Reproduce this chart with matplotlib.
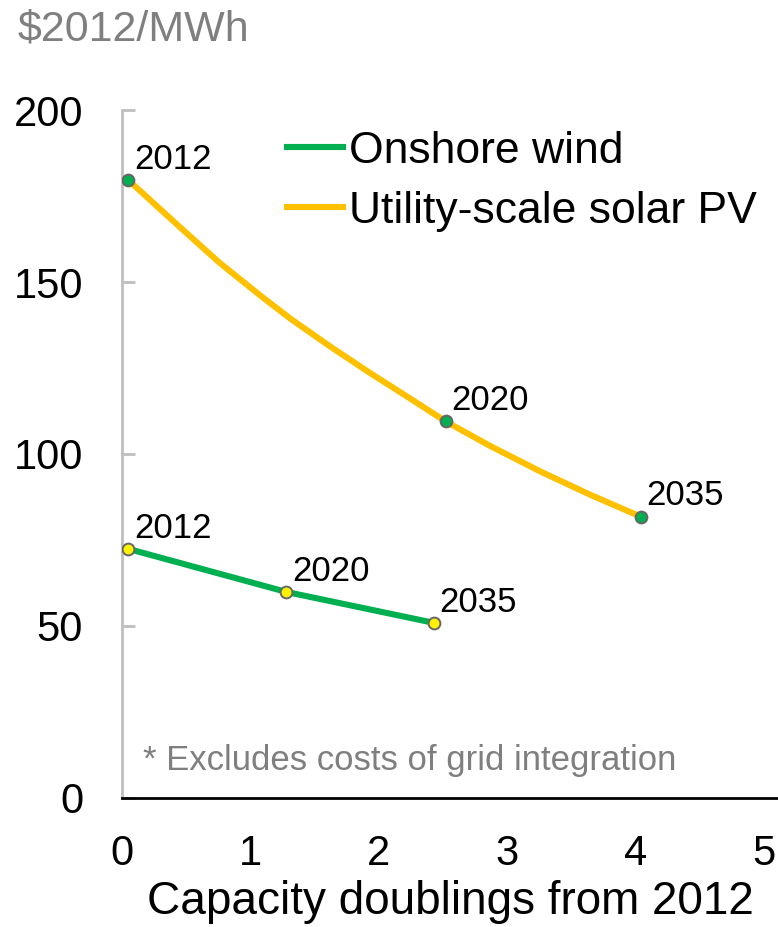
import matplotlib
matplotlib.use('Agg')
from matplotlib import pyplot as plt

# data
wind_x = [0.05, 1.28, 2.43]
wind_y = [72.4, 59.9, 50.9]
wind_years = ['2012', '2020', '2035']

# solar curve
solar_x = [0.05, 0.45, 0.76, 1.08, 1.31, 1.62, 1.93, 2.25, 2.52, 2.87, 3.26, 3.65, 4.04]
solar_y = [179.6, 166.0, 155.6, 146.0, 139.4, 131.3, 123.6, 116.0, 109.5, 102.3, 94.9, 88.1, 81.8]
solar_mark_x = [0.05, 2.52, 4.04]
solar_mark_y = [179.6, 109.5, 81.8]
solar_years = ['2012', '2020', '2035']

x_ticks = [0, 1, 2, 3, 4, 5]
y_ticks = [0, 50, 100, 150, 200]

FONT = 'Liberation Sans'
GREEN = '#00B050'
GOLD = '#FFC000'
GRAY = '#7F7F7F'

plt.rcParams['font.family'] = FONT

fig = plt.figure(figsize=(7.78, 9.27), dpi=100)
ax = fig.add_axes([0.1568, 0.1392, 0.8432, 0.7421])

ax.plot(wind_x, wind_y, color=GREEN, lw=4.4, solid_joinstyle='round', label='Onshore wind', zorder=2)
ax.plot(solar_x, solar_y, color=GOLD, lw=4.4, solid_joinstyle='round', label='Utility-scale solar PV', zorder=2)
ax.plot(wind_x, wind_y, ls='none', marker='o', ms=8.5, mfc='#FFF200', mec='#666666', mew=1.4, zorder=3)
ax.plot(solar_mark_x, solar_mark_y, ls='none', marker='o', ms=8.5, mfc=GREEN, mec='#666666', mew=1.4, zorder=3)

for x, y, t in zip(wind_x, wind_y, wind_years):
    ax.annotate(t, (x, y), xytext=(4, 3), textcoords='offset points', ha='left', va='bottom',
                fontsize=25)
for x, y, t in zip(solar_mark_x, solar_mark_y, solar_years):
    ax.annotate(t, (x, y), xytext=(4, 3), textcoords='offset points', ha='left', va='bottom',
                fontsize=25)

ax.set_xlim(0, 5.11)
ax.set_ylim(0, 200)
ax.set_xticks(x_ticks)
ax.set_yticks(y_ticks)
for s in ['top', 'right']:
    ax.spines[s].set_visible(False)
ax.spines['left'].set_color('#BFBFBF')
ax.spines['left'].set_linewidth(2)
ax.spines['bottom'].set_color('black')
ax.spines['bottom'].set_linewidth(2)
ax.tick_params(axis='y', direction='in', length=9, width=2, color='#BFBFBF', pad=28, labelsize=30)
ax.tick_params(axis='x', length=0, pad=26, labelsize=30)

ax.set_xlabel('Capacity doublings from 2012', fontsize=33, labelpad=4)

ax.legend(loc='upper left', bbox_to_anchor=(0.2515, 0.97), frameon=False,
          prop={'size': 32}, handlelength=1.25, handletextpad=0.15,
          labelspacing=0.43, borderpad=0, borderaxespad=0)

ax.text(0.032, 0.04, '* Excludes costs of grid integration', transform=ax.transAxes,
        fontsize=25, color=GRAY)
fig.text(0.022, 0.99, '$2012/MWh', fontsize=31, color=GRAY, va='top')

fig.savefig('out.png', dpi=100)
